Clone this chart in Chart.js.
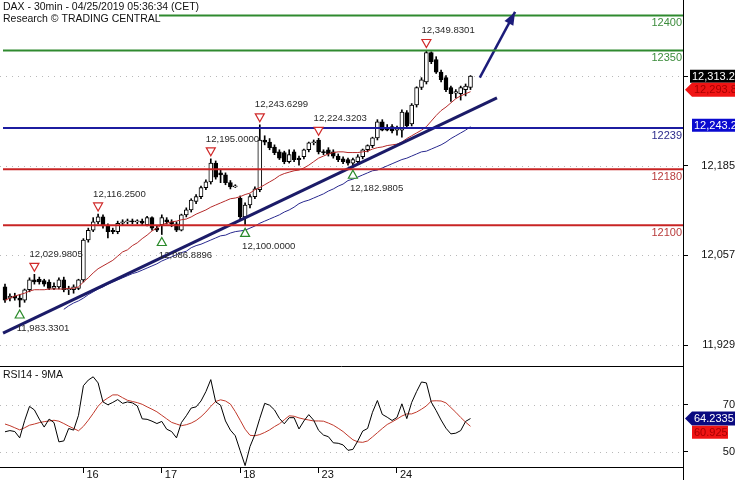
<!DOCTYPE html>
<html>
<head>
<meta charset="utf-8">
<script src="https://cdn.jsdelivr.net/npm/chart.js@4.4.1/dist/chart.umd.min.js"></script>
<style>
html, body { margin: 0; padding: 0; background: #fff; }
#wrap { position: relative; width: 735px; height: 480px; overflow: hidden; }
canvas { position: absolute; left: 0; }
#main { top: 0; }
#rsi { top: 366px; }
</style>
</head>
<body>
<div id="wrap">
<canvas id="main" width="735" height="366"></canvas>
<canvas id="rsi" width="735" height="114"></canvas>
</div>
<script>
// DAX 30min candles, 15 -> 24 Apr 2019, 16 bars a day
let opens = [12012, 11996, 11999, 11996, 11993, 12008, 12022, 12023, 12021, 12019, 12010, 12012, 12022, 12008, 12008, 12010,
  12022, 12079, 12093, 12105, 12112, 12099, 12093, 12091, 12103, 12105, 12106, 12105, 12106, 12101, 12111, 12096,
  12101, 12108, 12105, 12102, 12093, 12115, 12122, 12134, 12141, 12154, 12162, 12189, 12175, 12172, 12161, 12155,
  12139, 12112, 12129, 12141, 12151, 12222, 12219, 12212, 12205, 12204, 12191, 12205, 12196, 12198, 12208, 12218,
  12222, 12205, 12208, 12205, 12199, 12195, 12194, 12189, 12191, 12198, 12208, 12214, 12225, 12248, 12239, 12241,
  12236, 12236, 12261, 12245, 12272, 12297, 12305, 12347, 12337, 12319, 12311, 12297, 12289, 12288, 12294, 12297];
let highs = [12016, 12002, 12003, 12001, 12009, 12025, 12029.98, 12026, 12023, 12022, 12018, 12025, 12026, 12013, 12015, 12023,
  12081, 12096, 12111, 12116.25, 12115, 12102, 12096, 12106, 12108, 12109, 12109, 12108, 12109, 12113, 12112, 12099,
  12115, 12111, 12108, 12105, 12116, 12125, 12138, 12144, 12156, 12165, 12195, 12192, 12179, 12175, 12164, 12158,
  12142, 12132, 12144, 12155, 12243.63, 12228, 12224, 12215, 12208, 12206, 12208, 12208, 12199, 12209, 12219, 12222,
  12224.32, 12208, 12211, 12208, 12202, 12198, 12196, 12196, 12201, 12209, 12215, 12226, 12251, 12251, 12244, 12244,
  12242, 12265, 12264, 12274, 12298, 12311, 12349.83, 12348, 12341, 12322, 12314, 12299, 12294, 12299, 12302, 12314];
let lows = [11990, 11992, 11993, 11983.33, 11990, 12005, 12016, 12016, 12013, 12008, 12008, 12009, 12005, 12001, 12003, 12008,
  12019, 12076, 12091, 12102, 12096, 12082, 12088, 12088, 12101, 12102, 12102, 12102, 12101, 12099, 12093, 12091,
  12086.89, 12102, 12098, 12091, 12092, 12112, 12119, 12131, 12138, 12151, 12159, 12166, 12161, 12158, 12152, 12154,
  12109, 12100, 12125, 12138, 12148, 12215, 12208, 12201, 12194, 12188, 12189, 12191, 12186, 12195, 12205, 12215,
  12202, 12201, 12199, 12196, 12191, 12188, 12186, 12182.98, 12188, 12195, 12205, 12211, 12222, 12235, 12235, 12232,
  12229, 12226, 12239, 12242, 12269, 12294, 12302, 12331, 12317, 12305, 12291, 12277, 12282, 12279, 12285, 12294];
let closes = [11993, 11999, 11996, 11993, 12008, 12022, 12019, 12019, 12016, 12010, 12013, 12022, 12008, 12009, 12012, 12022,
  12079, 12093, 12105, 12112, 12099, 12091, 12091, 12103, 12105, 12106, 12105, 12106, 12103, 12111, 12096, 12093,
  12111, 12105, 12102, 12093, 12115, 12122, 12136, 12141, 12154, 12162, 12189, 12169, 12172, 12161, 12155, 12156,
  12112, 12129, 12141, 12152, 12222, 12219, 12211, 12204, 12196, 12191, 12201, 12194, 12194, 12208, 12218, 12219,
  12205, 12204, 12202, 12199, 12194, 12191, 12189, 12194, 12198, 12208, 12214, 12225, 12248, 12236, 12236, 12235,
  12239, 12262, 12242, 12272, 12297, 12308, 12347, 12334, 12319, 12308, 12294, 12288, 12291, 12297, 12299, 12313.2];

// moving averages on price (red = fast, navy = slow)
let maFast = [11993, 11996, 11999, 12001, 12003, 12006, 12008, 12008, 12008, 12009, 12009, 12009, 12009, 12010, 12010, 12012,
  12019, 12025, 12032, 12038, 12042, 12046, 12050, 12056, 12062, 12065, 12071, 12075, 12081, 12086, 12092, 12096,
  12101, 12103, 12105, 12106, 12108, 12109, 12112, 12116, 12119, 12122, 12126, 12129, 12132, 12135, 12138, 12139,
  12141, 12144, 12146, 12151, 12154, 12158, 12162, 12166, 12171, 12174, 12176, 12178, 12179, 12182, 12186, 12191,
  12196, 12199, 12202, 12204, 12205, 12205, 12204, 12204, 12204, 12205, 12206, 12209, 12211, 12212, 12214, 12215,
  12216, 12219, 12224, 12228, 12232, 12236, 12241, 12249, 12257, 12264, 12269, 12275, 12281, 12285, 12288, 12291];
let maSlow = [null, null, null, null, null, null, null, null, null, null, null, null, 11980, 11985, 11989, 11992,
  11996, 12001, 12005, 12009, 12012, 12016, 12019, 12022, 12025, 12028, 12031, 12033, 12036, 12039, 12042, 12045,
  12049, 12052, 12055, 12058, 12061, 12063, 12068, 12071, 12073, 12076, 12079, 12082, 12085, 12086, 12089, 12091,
  12092, 12093, 12096, 12099, 12103, 12106, 12109, 12112, 12115, 12119, 12122, 12126, 12131, 12134, 12136, 12139,
  12142, 12145, 12149, 12152, 12156, 12159, 12164, 12166, 12169, 12172, 12175, 12178, 12179, 12182, 12185, 12188,
  12191, 12194, 12196, 12199, 12202, 12205, 12206, 12209, 12212, 12215, 12219, 12224, 12228, 12232, 12236, 12241];

let rsi = [58.6, 59.1, 58.7, 56.0, 63.3, 69.4, 67.9, 64.0, 60.6, 64.0, 62.5, 54.3, 54.7, 60.0, 59.3, 65.6,
  78.2, 80.6, 82.0, 79.4, 71.3, 70.1, 71.1, 72.3, 70.7, 71.3, 70.9, 69.6, 64.1, 63.9, 63.1, 62.1,
  63.0, 59.7, 58.7, 56.0, 62.5, 65.4, 68.7, 69.2, 71.7, 75.7, 80.8, 71.3, 69.9, 63.2, 59.3, 56.9,
  50.5, 44.2, 52.3, 57.4, 64.3, 70.7, 69.9, 67.9, 64.3, 62.0, 64.6, 64.6, 59.8, 63.2, 65.9, 63.5,
  59.2, 57.2, 56.5, 53.9, 53.7, 53.0, 50.7, 51.1, 54.7, 58.9, 60.0, 66.9, 71.9, 66.0, 64.8, 63.4,
  64.7, 70.5, 64.2, 71.1, 75.7, 79.8, 79.4, 71.2, 67.6, 63.6, 60.1, 57.7, 58.0, 59.1, 63.0, 64.2335];
let rsiMa = [61.9, 61.2, 60.3, 59.4, 60.3, 61.4, 61.9, 62.5, 62.9, 63.2, 63.5, 63.1, 62.1, 61.0, 60.0, 59.0,
  60.9, 63.5, 66.4, 69.5, 71.6, 73.0, 74.3, 74.3, 73.1, 72.0, 71.5, 71.0, 70.3, 69.2, 68.2, 67.1,
  65.6, 64.1, 62.6, 61.9, 61.2, 61.6, 62.3, 63.4, 65.0, 67.0, 69.4, 71.5, 72.2, 71.7, 70.4, 67.2,
  63.5, 59.7, 57.1, 56.9, 57.4, 58.3, 59.4, 60.8, 62.0, 63.7, 65.4, 65.2, 64.5, 64.0, 63.6, 63.2,
  63.2, 63.1, 62.3, 61.4, 60.1, 58.7, 56.9, 55.2, 54.3, 54.1, 54.7, 56.4, 58.2, 60.0, 61.7, 62.8,
  64.0, 65.3, 66.2, 66.2, 67.0, 68.2, 69.6, 71.7, 71.8, 71.7, 70.9, 68.9, 66.9, 64.7, 62.7, 60.925];

let dayTicks = [16, 32, 48, 64, 80];
let dayLabels = ["16", "17", "18", "23", "24"];
let priceTicks = [11929, 12057, 12185, 12313];
let rsiTicks = [50, 70];

let levels = [12400, 12350, 12239, 12180, 12100];
let levelColors = ["#2f8a2f", "#2f8a2f", "#1c1ca0", "#c82424", "#c82424"];
let levelTextColors = ["#3c8c3c", "#3c8c3c", "#2c2c8c", "#b83a3a", "#b83a3a"];

let trendX = [-0.4, 100.4];
let trendY = [11946, 12282];
let arrowX = [96.9, 104.1];
let arrowY = [12311, 12405];

let markIdx = [3, 6, 19, 32, 42, 49, 52, 64, 71, 86];
let markVal = [11983.3301, 12029.9805, 12116.25, 12086.8896, 12195.0, 12100.0, 12243.6299, 12224.3203, 12182.9805, 12349.8301];
let markHigh = [false, true, true, false, true, false, true, true, false, true];

let lastClose = 12313.2, lastFast = 12293.8, lastSlow = 12243.2;
let lastRsi = 64.2335, lastRsiMa = 60.925;

let xMin = -1.02, xMax = 138.37;

let FONT = "'Liberation Sans', Arial, sans-serif";
Chart.defaults.font.family = FONT;
Chart.defaults.font.size = 11;
Chart.defaults.color = "#111";

function pts(arr){
    return arr.map((v, i) => ({x: i, y: v}));
}

function drawTag(ctx, y, text, bg, fg, arrow, x0, x1){
    ctx.save();
    ctx.fillStyle = bg;
    ctx.beginPath();
    if (arrow) {
        ctx.moveTo(685, y);
        ctx.lineTo(692, y - 7);
        ctx.lineTo(x1, y - 7);
        ctx.lineTo(x1, y + 7);
        ctx.lineTo(692, y + 7);
    } else {
        ctx.rect(x0, y - 6.5, x1 - x0, 13);
    }
    ctx.closePath();
    ctx.fill();
    ctx.fillStyle = fg;
    ctx.font = "11px " + FONT;
    ctx.textBaseline = "middle";
    ctx.textAlign = "left";
    ctx.fillText(text, (arrow ? 692 : x0) + 2, y + 0.5);
    ctx.restore();
}

function dotted(ctx, area, y){
    y = Math.round(y) + 0.5;
    ctx.beginPath();
    ctx.moveTo(area.left, y);
    ctx.lineTo(area.right, y);
    ctx.stroke();
}

let mainDecor = {
    id: "mainDecor",
    beforeDatasetsDraw(chart){
        let ctx = chart.ctx, ys = chart.scales.y, a = chart.chartArea;
        ctx.save();
        ctx.strokeStyle = "#b8b8b8";
        ctx.lineWidth = 1;
        ctx.setLineDash([1, 5]);
        priceTicks.forEach(v => dotted(ctx, a, ys.getPixelForValue(v)));
        ctx.restore();
    },
    afterDatasetsDraw(chart){
        let ctx = chart.ctx, xs = chart.scales.x, ys = chart.scales.y, a = chart.chartArea;
        ctx.save();

        // support / resistance levels
        levels.forEach((lv, k) => {
            let y = ys.getPixelForValue(lv);
            ctx.strokeStyle = levelColors[k];
            ctx.lineWidth = 2;
            ctx.beginPath();
            ctx.moveTo(a.left + 3, y);
            ctx.lineTo(a.right, y);
            ctx.stroke();
            ctx.fillStyle = levelTextColors[k];
            ctx.font = "11px " + FONT;
            ctx.textAlign = "right";
            ctx.textBaseline = "middle";
            ctx.fillText(String(lv), a.right - 1, y + 8);
        });

        // arrow head
        let x0 = xs.getPixelForValue(arrowX[0]), y0 = ys.getPixelForValue(arrowY[0]);
        let x1 = xs.getPixelForValue(arrowX[1]), y1 = ys.getPixelForValue(arrowY[1]);
        let ang = Math.atan2(y1 - y0, x1 - x0);
        ctx.fillStyle = "#1c1c7a";
        ctx.beginPath();
        ctx.moveTo(x1, y1);
        ctx.lineTo(x1 - 13 * Math.cos(ang) + 5 * Math.sin(ang), y1 - 13 * Math.sin(ang) - 5 * Math.cos(ang));
        ctx.lineTo(x1 - 13 * Math.cos(ang) - 5 * Math.sin(ang), y1 - 13 * Math.sin(ang) + 5 * Math.cos(ang));
        ctx.closePath();
        ctx.fill();

        // pivot markers
        ctx.font = "9.6px " + FONT;
        ctx.textAlign = "left";
        ctx.textBaseline = "middle";
        ctx.lineWidth = 1.2;
        markIdx.forEach((i, k) => {
            let cx = xs.getPixelForValue(i), py = ys.getPixelForValue(markVal[k]);
            let txt = markVal[k].toLocaleString("en-US", {minimumFractionDigits: 4, maximumFractionDigits: 4});
            ctx.beginPath();
            if (markHigh[k]) {
                let cy = py - 7;
                ctx.moveTo(cx - 4.5, cy - 4);
                ctx.lineTo(cx + 4.5, cy - 4);
                ctx.lineTo(cx, cy + 4);
                ctx.closePath();
                ctx.fillStyle = "#fff";
                ctx.fill();
                ctx.strokeStyle = "#d02a2a";
                ctx.stroke();
                ctx.fillStyle = "#2a2a2a";
                ctx.fillText(txt, cx - 5, py - 20);
            } else {
                let cy = py + 7;
                ctx.moveTo(cx - 4.5, cy + 4);
                ctx.lineTo(cx + 4.5, cy + 4);
                ctx.lineTo(cx, cy - 4);
                ctx.closePath();
                ctx.fillStyle = "#fff";
                ctx.fill();
                ctx.strokeStyle = "#2a8a2a";
                ctx.stroke();
                ctx.fillStyle = "#2a2a2a";
                ctx.fillText(txt, cx - 3, py + 21);
            }
        });
        ctx.restore();
    },
    afterDraw(chart){
        let ctx = chart.ctx, ys = chart.scales.y;
        ctx.save();
        ctx.fillStyle = "#fff";
        ctx.fillRect(0, 0, 159, 25);
        ctx.fillStyle = "#111";
        ctx.font = "10.5px " + FONT;
        ctx.textAlign = "left";
        ctx.textBaseline = "middle";
        ctx.fillText("DAX - 30min - 04/25/2019 05:36:34 (CET)", 3, 7);
        ctx.fillText("Research \u00a9 TRADING CENTRAL", 3, 19);
        ctx.restore();

        drawTag(ctx, ys.getPixelForValue(lastClose), "12,313.2", "#000", "#fff", false, 690, 735);
        drawTag(ctx, ys.getPixelForValue(lastFast), "12,293.8", "#f01414", "#a80000", true, 692, 735);
        drawTag(ctx, ys.getPixelForValue(lastSlow), "12,243.2", "#0a0ad0", "#fff", false, 692, 735);
    }
};

let rsiDecor = {
    id: "rsiDecor",
    beforeDatasetsDraw(chart){
        let ctx = chart.ctx, ys = chart.scales.y, a = chart.chartArea;
        ctx.save();
        ctx.strokeStyle = "#b8b8b8";
        ctx.lineWidth = 1;
        ctx.setLineDash([1, 5]);
        rsiTicks.forEach(v => dotted(ctx, a, ys.getPixelForValue(v)));
        ctx.restore();
    },
    afterDraw(chart){
        let ctx = chart.ctx, ys = chart.scales.y, a = chart.chartArea;
        ctx.save();
        ctx.strokeStyle = "#000";
        ctx.lineWidth = 1;
        ctx.beginPath();
        ctx.moveTo(0, 0.5);
        ctx.lineTo(a.right, 0.5);
        ctx.moveTo(a.right + 0.5, 0);
        ctx.lineTo(a.right + 0.5, chart.height);
        ctx.stroke();
        ctx.fillStyle = "#111";
        ctx.font = "10.5px " + FONT;
        ctx.textAlign = "left";
        ctx.textBaseline = "middle";
        ctx.fillText("RSI14 - 9MA", 3, 9);
        ctx.restore();

        drawTag(ctx, ys.getPixelForValue(lastRsi), "64.2335", "#0a0a80", "#fff", true, 692, 735);
        drawTag(ctx, ys.getPixelForValue(lastRsiMa) + 6, "60.925", "#f01414", "#a80000", false, 692, 728);
    }
};

let bodies = opens.map((o, i) => ({x: i, y: [Math.min(o, closes[i]), Math.max(o, closes[i])]}));
let wicks = highs.map((h, i) => ({x: i, y: [lows[i], h]}));
let bodyColors = opens.map((o, i) => closes[i] >= o ? "#fff" : "#000");

new Chart(document.getElementById("main"), {
    type: "bar",
    data: {
        datasets: [
            {type: "line", data: arrowX.map((v, i) => ({x: v, y: arrowY[i]})), borderColor: "#1c1c7a", borderWidth: 2.5, pointRadius: 0, order: 0},
            {type: "line", data: trendX.map((v, i) => ({x: v, y: trendY[i]})), borderColor: "#1b1b68", borderWidth: 3, pointRadius: 0, order: 1},
            {type: "line", data: pts(maSlow), borderColor: "#28288e", borderWidth: 1, pointRadius: 0, order: 2},
            {type: "line", data: pts(maFast), borderColor: "#b52a2a", borderWidth: 1, pointRadius: 0, order: 3},
            {data: bodies, backgroundColor: bodyColors, borderColor: "#000", borderWidth: 1, borderSkipped: false,
             barThickness: 4, minBarLength: 1, grouped: false, order: 4},
            {data: wicks, backgroundColor: "#000", barThickness: 1, grouped: false, order: 5}
        ]
    },
    options: {
        responsive: false,
        animation: false,
        devicePixelRatio: 1,
        layout: {padding: 0},
        plugins: {legend: {display: false}, tooltip: {enabled: false}},
        scales: {
            x: {type: "linear", min: xMin, max: xMax, display: false, offset: false, grid: {offset: false}},
            y: {
                position: "right", min: 11899, max: 12422,
                afterBuildTicks: s => { s.ticks = priceTicks.map(v => ({value: v})); },
                afterFit: s => { s.width = 52; s.paddingTop = 0; s.paddingBottom = 0; },
                grid: {drawOnChartArea: false, drawTicks: true, tickLength: 5, tickColor: "#000"},
                border: {display: true, color: "#000"},
                ticks: {padding: 10, crossAlign: "far", color: "#111", callback: v => v.toLocaleString("en-US")}
            }
        }
    },
    plugins: [mainDecor]
});

new Chart(document.getElementById("rsi"), {
    type: "line",
    data: {
        datasets: [
            {data: pts(rsi), borderColor: "#000", borderWidth: 1, pointRadius: 0, order: 0},
            {data: pts(rsiMa), borderColor: "#c0392b", borderWidth: 1, pointRadius: 0, order: 1}
        ]
    },
    options: {
        responsive: false,
        animation: false,
        devicePixelRatio: 1,
        layout: {padding: 0},
        plugins: {legend: {display: false}, tooltip: {enabled: false}},
        scales: {
            x: {
                type: "linear", min: xMin, max: xMax, offset: false,
                afterBuildTicks: s => { s.ticks = dayTicks.map(v => ({value: v})); },
                afterFit: s => { s.height = 13; s.paddingLeft = 0; s.paddingRight = 0; },
                grid: {drawOnChartArea: false, drawTicks: true, tickLength: 6, tickColor: "#000", offset: false},
                border: {display: true, color: "#000"},
                ticks: {align: "start", labelOffset: 3, padding: -5, maxRotation: 0, autoSkip: false, color: "#111",
                        callback: v => dayLabels[dayTicks.indexOf(v)]}
            },
            y: {
                position: "right", min: 43.6, max: 86.6,
                afterBuildTicks: s => { s.ticks = rsiTicks.map(v => ({value: v})); },
                afterFit: s => { s.width = 52; s.paddingTop = 0; s.paddingBottom = 0; },
                grid: {drawOnChartArea: false, drawTicks: true, tickLength: 5, tickColor: "#000"},
                border: {display: true, color: "#000"},
                ticks: {padding: 32, crossAlign: "far", color: "#111"}
            }
        }
    },
    plugins: [rsiDecor]
});
</script>
</body>
</html>
